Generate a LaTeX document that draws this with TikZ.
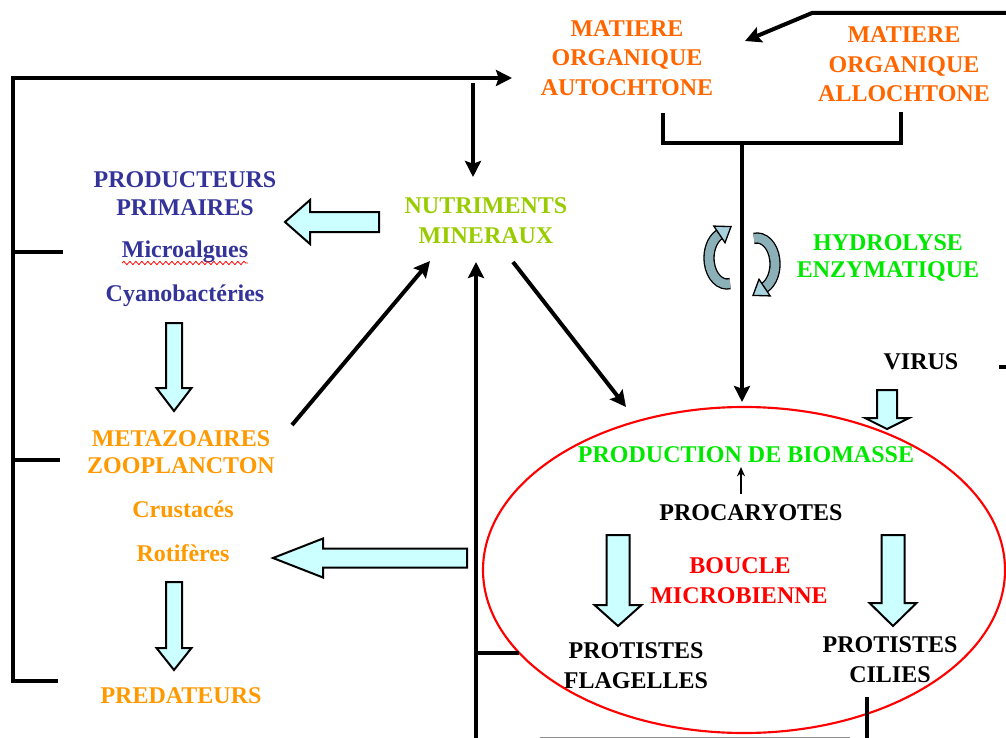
\documentclass[tikz,border=0pt]{standalone}
\usepackage{fontspec}
\setmainfont{Liberation Serif}
\usetikzlibrary{arrows.meta,decorations.pathmorphing,shapes.geometric}
\definecolor{orgA}{RGB}{255,102,0}
\definecolor{orgB}{RGB}{255,153,0}
\definecolor{ygreen}{RGB}{153,204,0}
\definecolor{navyb}{RGB}{51,51,153}
\definecolor{brgreen}{RGB}{0,232,0}
\definecolor{cyanfill}{RGB}{204,255,255}
\definecolor{hyfill}{RGB}{168,210,222}
\definecolor{hyfillb}{RGB}{140,176,184}
\tikzset{
  lbl/.style={font=\fontsize{18}{21}\selectfont\bfseries, inner sep=0pt, anchor=base},
  conn/.style={line width=3pt, draw=black, line join=miter},
  arr/.style={conn, -{Stealth[length=12pt,width=12pt,inset=2pt]}},
  barrow/.style={fill=cyanfill, draw=black, line width=1.5pt, line join=miter},
}
% vertical block arrow: x, ytop, ybase, ytip, shaft half, head half
\newcommand{\blkdown}[6]{\draw[barrow] (#1-#5,#2) -- (#1+#5,#2) -- (#1+#5,#3) -- (#1+#6,#3) -- (#1,#4) -- (#1-#6,#3) -- (#1-#5,#3) -- cycle;}
% horizontal (leftward) block arrow: y, xtail, xbase, xtip, shaft half, head half
\newcommand{\blkleft}[6]{\draw[barrow] (#2,#1-#5) -- (#2,#1+#5) -- (#3,#1+#5) -- (#3,#1+#6) -- (#4,#1) -- (#3,#1-#6) -- (#3,#1-#5) -- cycle;}
\begin{document}
\begin{tikzpicture}[x=0.75pt,y=-0.75pt]
\useasboundingbox (0,0) rectangle (1006,738);

% ---------- texts ----------
\node[lbl,orgA] (auto1) at (627,37) {MATIERE};
\node[lbl,orgA] (auto2) at (627,66) {ORGANIQUE};
\node[lbl,orgA] (auto3) at (627,96) {AUTOCHTONE};
\node[lbl,orgA] (allo1) at (904,43) {MATIERE};
\node[lbl,orgA] (allo2) at (904,73) {ORGANIQUE};
\node[lbl,orgA] (allo3) at (904,102) {ALLOCHTONE};
\node[lbl,ygreen] (nutri1) at (486,213) {NUTRIMENTS};
\node[lbl,ygreen] (nutri2) at (486,243) {MINERAUX};
\node[lbl,navyb] (prod1) at (185,187) {PRODUCTEURS};
\node[lbl,navyb] (prod2) at (185,215) {PRIMAIRES};
\node[lbl,navyb] (micro) at (185,257) {Microalgues};
\node[lbl,navyb] (cyano) at (185,301) {Cyanobactéries};
\node[lbl,brgreen] (hydro1) at (888,250) {HYDROLYSE};
\node[lbl,brgreen] (hydro2) at (888,277) {ENZYMATIQUE};
\node[lbl,orgB] (meta1) at (181,446) {METAZOAIRES};
\node[lbl,orgB] (meta2) at (181,473) {ZOOPLANCTON};
\node[lbl,orgB] (crust) at (183,517) {Crustacés};
\node[lbl,orgB] (roti) at (183,561) {Rotifères};
\node[lbl,orgB] (pred) at (181,703) {PREDATEURS};
\node[lbl,black] (virus) at (921,369) {VIRUS};
\node[lbl,brgreen] (biom) at (746,462) {PRODUCTION DE BIOMASSE};
\node[lbl,black] (proca) at (751,520) {PROCARYOTES};
\node[lbl,red] (boucle1) at (740,573) {BOUCLE};
\node[lbl,red] (boucle2) at (739,603) {MICROBIENNE};
\node[lbl,black] (flag1) at (636,658) {PROTISTES};
\node[lbl,black] (flag2) at (636,688) {FLAGELLES};
\node[lbl,black] (cil1) at (890,652) {PROTISTES};
\node[lbl,black] (cil2) at (890,682) {CILIES};

% spell-check underline
\draw[red, line width=0.6pt, decorate, decoration={snake, amplitude=1.2, segment length=4.5}] (122,263) -- (248,263);

% ---------- ellipse (microbial loop) ----------
\node[draw=red, line width=1.6pt, ellipse, minimum width=391.5pt, minimum height=244.5pt, inner sep=0pt] (loop) at (744,570) {};

% ---------- coordinates ----------
\coordinate (autoIn) at (512,78);
\coordinate (loopTop) at (13,78);
\coordinate (loopBot) at (13,681);
\coordinate (loopBotEnd) at (58,681);
\coordinate (tickP) at (63,252);
\coordinate (tickPl) at (13,252);
\coordinate (tickM) at (60,460);
\coordinate (tickMl) at (13,460);
\coordinate (nutDownS) at (473,83);
\coordinate (nutDownE) at (473,177);
\coordinate (metaOut) at (292,425);
\coordinate (nutInL) at (430,261);
\coordinate (upBot) at (476,740);
\coordinate (nutInB) at (476,262);
\coordinate (tickF) at (476,653);
\coordinate (tickFe) at (519,653);
\coordinate (nutOut) at (513,262);
\coordinate (loopInL) at (626,407);
\coordinate (brL) at (663,113);
\coordinate (brLb) at (663,143);
\coordinate (brRb) at (901,143);
\coordinate (brR) at (901,112);
\coordinate (stemS) at (742,143);
\coordinate (stemE) at (742,402);
\coordinate (trA) at (1012,13);
\coordinate (trB) at (812,13);
\coordinate (autoInR) at (745,41);
\coordinate (procaUp) at (741,494);
\coordinate (biomIn) at (741,467);
\coordinate (cilDown) at (867,697);
\coordinate (cilBot) at (867,740);
\coordinate (botL) at (540,737.5);
\coordinate (botR) at (850,737.5);
\coordinate (virR) at (999,367);
\coordinate (virRe) at (1012,367);

% ---------- connectors ----------
\draw[arr] (loopBotEnd) -- (loopBot) -- (loopTop) -- (autoIn);
\draw[conn] (tickPl) -- (tickP);
\draw[conn] (tickMl) -- (tickM);
\draw[arr] (nutDownS) -- (nutDownE);
\draw[arr] (metaOut) -- (nutInL);
\draw[arr] (upBot) -- (nutInB);
\draw[conn] (tickF) -- (tickFe);
\draw[arr] (nutOut) -- (loopInL);
\draw[conn] (brL) -- (brLb) -- (brRb) -- (brR);
\draw[arr] (stemS) -- (stemE);
\draw[arr] (trA) -- (trB) -- (autoInR);
\draw[line width=1.3pt, -{Stealth[length=7pt,width=6pt]}] (procaUp) -- (biomIn);
\draw[conn] (cilDown) -- (cilBot);
\draw[line width=1pt, black!45] (botL) -- (botR);
\draw[conn] (virR) -- (virRe);

% ---------- block arrows ----------
\blkleft{222}{379}{310}{285}{10}{22}
\blkdown{174}{323}{388}{411}{8}{17.5}
\blkdown{174}{582}{648}{670}{8}{17.5}
\blkleft{558}{467}{323}{273}{9.5}{19.5}
\blkdown{887}{390}{418}{429}{10}{22}
\blkdown{618}{535}{605}{626}{11.5}{23.5}
\blkdown{893}{535}{603}{626}{11.5}{23.5}

% ---------- hydrolysis curved arrows ----------
\draw[black, line width=8.5pt] (730.1,283.6) arc[start angle=80, end angle=245, x radius=18, y radius=26];
\draw[hyfillb, line width=6.5pt] (730.1,283.6) arc[start angle=80, end angle=245, x radius=18, y radius=26];
\filldraw[fill=hyfill, draw=black, line width=1pt, line join=miter] (731.0,226.6) -- (725.0,242.7) -- (713.8,226.1) -- cycle;
\draw[black, line width=8.5pt] (753.9,238.4) arc[start angle=260, end angle=425, x radius=18, y radius=26];
\draw[hyfillb, line width=6.5pt] (753.9,238.4) arc[start angle=260, end angle=425, x radius=18, y radius=26];
\filldraw[fill=hyfill, draw=black, line width=1pt, line join=miter] (753.0,295.4) -- (770.2,295.9) -- (759.0,279.3) -- cycle;
\end{tikzpicture}
\end{document}
